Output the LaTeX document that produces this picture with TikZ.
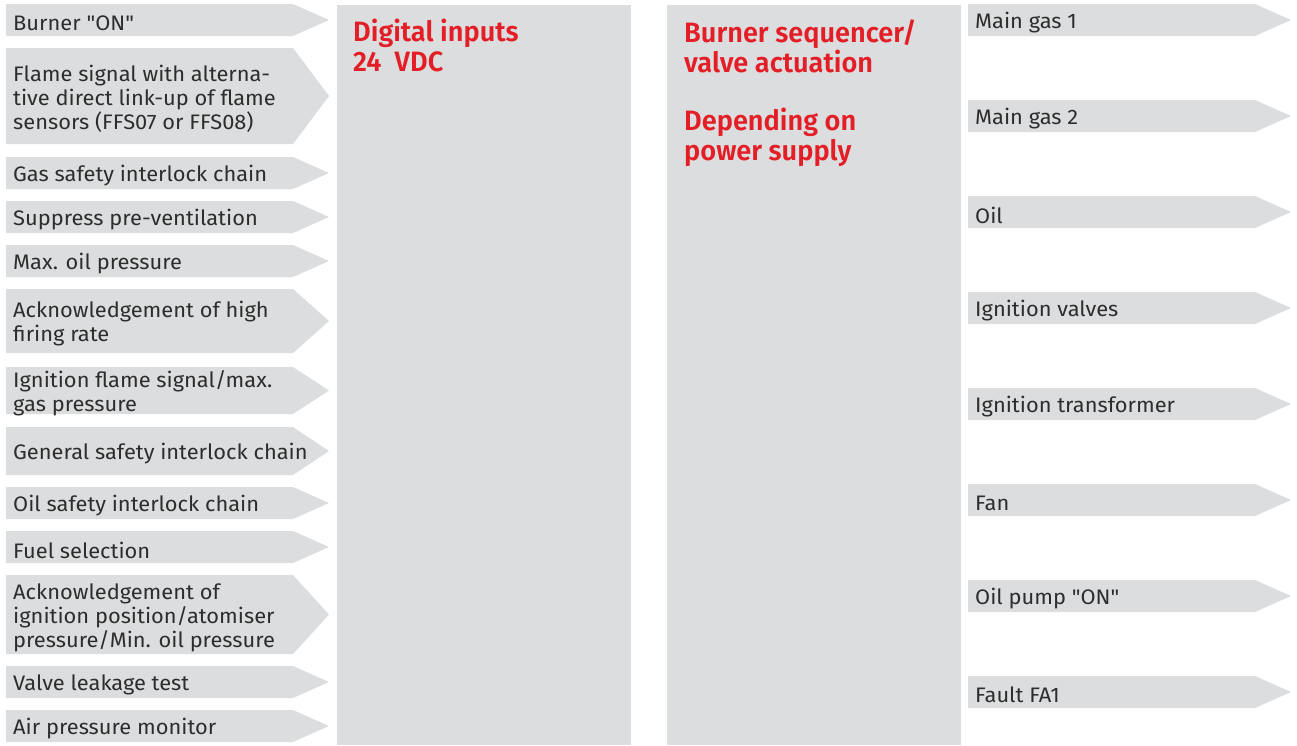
\documentclass[tikz,border=0pt]{standalone}
\usepackage{fontspec}
\newfontfamily\bodyfont[FakeStretch=1.04]{Fira Sans}
\newfontfamily\headfont[FakeStretch=0.97]{Fira Sans SemiBold}
\definecolor{boxgray}{RGB}{220,221,222}
\definecolor{txtgray}{RGB}{45,45,45}
\definecolor{headred}{RGB}{228,30,38}
\tikzset{
  lbl/.style={anchor=west, inner sep=0pt, align=left, text=txtgray, yshift=-3pt,
    font=\bodyfont\fontsize{21}{24}\selectfont},
  headlbl/.style={anchor=base west, inner sep=0pt, align=left, text=headred,
    font=\headfont\fontsize{28}{30}\selectfont},
  panel/.style={fill=boxgray, draw=none}
}
\newcommand{\inarrow}[4]{%
  \fill[boxgray] (6,-#2) -- (293,-#2) -- (329,{-(#2+#3)/2}) -- (293,-#3) -- (6,-#3) -- cycle;
  \node[lbl] (#1) at (13,{-(#2+#3)/2}) {#4};
}
\newcommand{\outarrow}[4]{%
  \fill[boxgray] (968,-#2) -- (1255,-#2) -- (1291,{-(#2+#3)/2}) -- (1255,-#3) -- (968,-#3) -- cycle;
  \node[lbl] (#1) at (975,{-(#2+#3)/2}) {#4};
}
\begin{document}
\begin{tikzpicture}[x=1pt,y=1pt]
\useasboundingbox (0,0) rectangle (1297,-745);
% panels
\fill[panel] (337,-5) rectangle (631,-745);
\fill[panel] (667,-5) rectangle (961,-745);
\node[headlbl] (h1) at (353,-71) {Digital inputs\\24~ VDC};
\node[headlbl] (h2) at (684,-160) {Burner sequencer/\\valve actuation\\[28pt]Depending on\\power supply};
% inputs
\inarrow{i1}{4}{36}{Burner "ON"}
\inarrow{i2}{48}{144}{Flame signal with alterna-\\tive direct link-up of flame\\sensors (FFS07 or FFS08)}
\inarrow{i3}{157}{189}{Gas safety interlock chain}
\inarrow{i4}{201}{233}{Suppress pre-ventilation}
\inarrow{i5}{245}{277}{Max. oil pressure}
\inarrow{i6}{289}{353}{Acknowledgement of high\\firing rate}
\inarrow{i7}{367}{414}{Ignition flame signal/max.\\gas pressure}
\inarrow{i8}{427}{475}{General safety interlock chain}
\inarrow{i9}{487}{519}{Oil safety interlock chain}
\inarrow{i10}{531}{563}{Fuel selection}
\inarrow{i11}{575}{654}{Acknowledgement of\\ignition position/atomiser\\pressure/Min. oil pressure}
\inarrow{i12}{666}{698}{Valve leakage test}
\inarrow{i13}{710}{742}{Air pressure monitor}
% outputs
\outarrow{o1}{4}{36}{Main gas 1}
\outarrow{o2}{100}{132}{Main gas 2}
\outarrow{o3}{196}{228}{Oil}
\outarrow{o4}{292}{324}{Ignition valves}
\outarrow{o5}{388}{420}{Ignition transformer}
\outarrow{o6}{484}{516}{Fan}
\outarrow{o7}{580}{612}{Oil pump "ON"}
\outarrow{o8}{676}{708}{Fault FA1}
\end{tikzpicture}
\end{document}
